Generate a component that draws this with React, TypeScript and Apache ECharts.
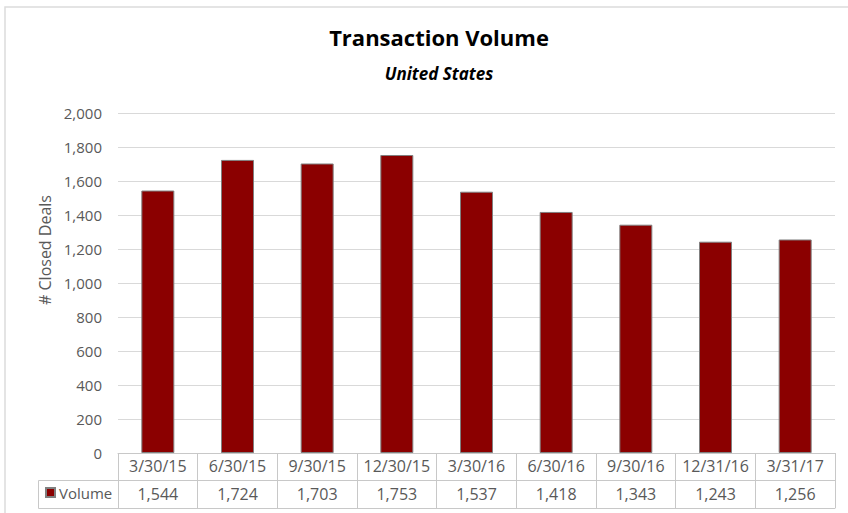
import React, { useEffect, useRef } from "react";
import * as echarts from "echarts";

const categories = ["3/30/15", "6/30/15", "9/30/15", "12/30/15", "3/30/16", "6/30/16", "9/30/16", "12/31/16", "3/31/17"];
const volume = [1544, 1724, 1703, 1753, 1537, 1418, 1343, 1243, 1256];
const yTicks = { min: 0, max: 2000, interval: 200 };
const seriesName = "Volume";
const titleText = "Transaction Volume";
const subtitleText = "United States";
const yAxisTitle = "# Closed Deals";

const FONT = "'Open Sans', 'Noto Sans', sans-serif";
const TXT = "#595959";
const LINE = "#c8c8c8";

const fmt = (v: number) => v.toLocaleString("en-US");

export default function App() {
  const ref = useRef<HTMLDivElement>(null);
  useEffect(() => {
    if (!ref.current) return;
    const chart = echarts.init(ref.current, undefined, { renderer: "svg" });
    chart.setOption({
      animation: false,
      backgroundColor: "#ffffff",
      textStyle: { fontFamily: FONT },
      title: {
        text: titleText,
        subtext: subtitleText,
        left: 434,
        textAlign: "center",
        top: 21,
        itemGap: 17,
        textStyle: { fontFamily: FONT, fontSize: 22, fontWeight: "bold", color: "#000000" },
        subtextStyle: { fontFamily: FONT, fontSize: 17, fontWeight: "bold", fontStyle: "italic", color: "#000000" },
      },
      legend: {
        left: 45,
        top: 485,
        padding: 0,
        itemWidth: 9,
        itemHeight: 9,
        itemGap: 4,
        icon: "rect",
        textStyle: { fontFamily: FONT, fontSize: 15, color: TXT, padding: [0, 0, 0, -1] },
        data: [seriesName],
      },
      grid: { left: 118, right: 13, top: 113, bottom: 60, containLabel: false },
      xAxis: [
        {
          type: "category",
          data: categories,
          position: "bottom",
          axisLine: { show: true, lineStyle: { color: LINE, width: 1 } },
          axisTick: { show: true, interval: 0, length: 55, lineStyle: { color: LINE, width: 1 } },
          axisLabel: { interval: 0, margin: 5, fontFamily: FONT, fontSize: 16, color: TXT },
        },
        {
          type: "category",
          data: volume.map(fmt),
          position: "bottom",
          offset: 27,
          axisLine: { show: true, lineStyle: { color: LINE, width: 1 } },
          axisTick: { show: false },
          axisLabel: { interval: 0, margin: 6, fontFamily: FONT, fontSize: 16, color: TXT },
        },
        {
          type: "category",
          data: categories,
          position: "bottom",
          offset: 55,
          axisLine: { show: true, lineStyle: { color: LINE, width: 1 } },
          axisTick: { show: false },
          axisLabel: { show: false },
        },
      ],
      yAxis: {
        type: "value",
        min: yTicks.min,
        max: yTicks.max,
        interval: yTicks.interval,
        axisLine: { show: false },
        axisTick: { show: false },
        splitLine: { show: true, lineStyle: { color: "#d9d9d9", width: 1 } },
        axisLabel: { margin: 16, fontFamily: FONT, fontSize: 15, color: TXT, formatter: (v: number) => fmt(v) },
      },
      graphic: [
        {
          type: "rect",
          shape: { x: 5, y: 7, width: 900, height: 600 },
          style: { fill: "none", stroke: "#dcdcdc", lineWidth: 1.5 },
          silent: true,
        },
        {
          type: "polyline",
          shape: { points: [[118, 480.5], [38.5, 480.5], [38.5, 508.5], [118, 508.5]] },
          style: { fill: "none", stroke: LINE, lineWidth: 1 },
          silent: true,
        },
        {
          type: "text",
          x: 45,
          y: 250,
          rotation: Math.PI / 2,
          style: { text: yAxisTitle, fontFamily: FONT, fontSize: 16, fill: TXT, align: "center", verticalAlign: "middle" },
          silent: true,
        },
      ],
      series: [
        {
          name: seriesName,
          type: "bar",
          data: volume,
          barWidth: 33,
          itemStyle: { color: "#8b0000", borderColor: "#808080", borderWidth: 1 },
        },
      ],
    });
    return () => chart.dispose();
  }, []);
  return <div ref={ref} style={{ position: "fixed", left: 0, top: 0, width: 848, height: 513 }} />;
}
